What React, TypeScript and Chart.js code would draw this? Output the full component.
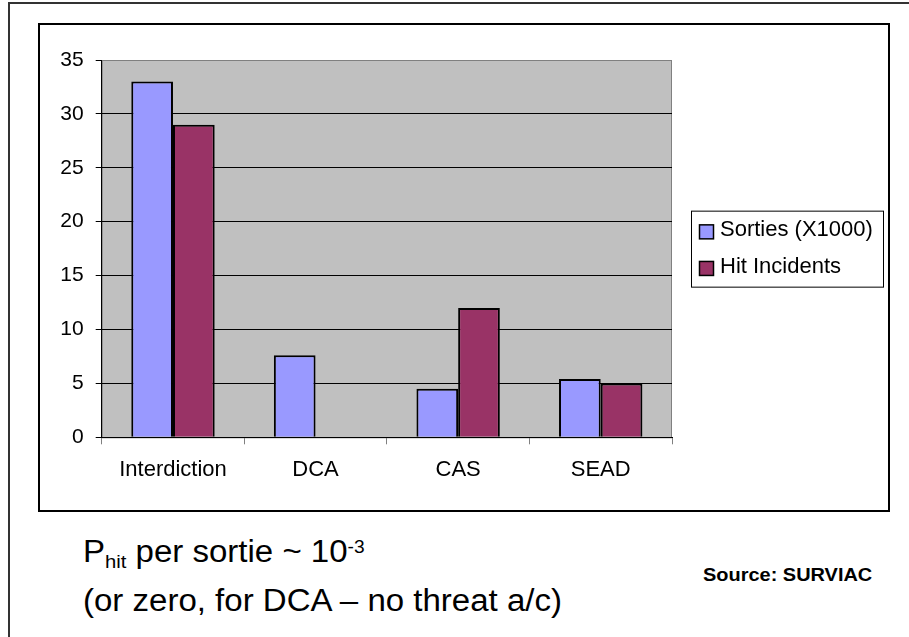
import { useEffect, useRef } from "react";
import { Chart, registerables } from "chart.js";

Chart.register(...registerables);

const categories = ["Interdiction", "DCA", "CAS", "SEAD"];
const seriesNames = ["Sorties (X1000)", "Hit Incidents"];
const sorties = [33, 7.6, 4.5, 5.4];
const hitIncidents = [29, 0, 12, 5];
const yTicks = [0, 5, 10, 15, 20, 25, 30, 35];
const seriesColors = ["#9999ff", "#993366"];

const FONT = '"Liberation Sans", Arial, Helvetica, sans-serif';

// grey plot area with a thin darker frame (top / right)
const plotBackground = {
  id: "plotBackground",
  beforeDraw(chart: any) {
    const { ctx, chartArea: a } = chart;
    ctx.save();
    ctx.fillStyle = "#c0c0c0";
    ctx.fillRect(a.left, a.top, a.right - a.left, a.bottom - a.top);
    ctx.strokeStyle = "#808080";
    ctx.lineWidth = 1;
    ctx.strokeRect(a.left + 0.5, a.top + 0.5, a.right - a.left - 1, a.bottom - a.top);
    ctx.restore();
  },
};

// excel style legend: boxed, to the right of the plot
const boxedLegend = {
  id: "boxedLegend",
  afterDraw(chart: any) {
    const { ctx, chartArea: a } = chart;
    const w = 192;
    const h = 76;
    const left = a.right + 19;
    const top = (a.top + a.bottom) / 2 - h / 2;
    ctx.save();
    ctx.fillStyle = "#fff";
    ctx.fillRect(left, top, w, h);
    ctx.strokeStyle = "#000";
    ctx.lineWidth = 1;
    ctx.strokeRect(left + 0.5, top + 0.5, w, h);
    ctx.font = `22px ${FONT}`;
    ctx.textBaseline = "alphabetic";
    chart.data.datasets.forEach((ds: any, i: number) => {
      const base = top + 25.7 + i * 36.6;
      ctx.fillStyle = ds.backgroundColor;
      ctx.fillRect(left + 8.5, base - 11.5, 14, 14);
      ctx.lineWidth = 1.5;
      ctx.strokeStyle = "#000";
      ctx.strokeRect(left + 8.5, base - 11.5, 14, 14);
      ctx.fillStyle = "#000";
      ctx.fillText(ds.label, left + 29, base);
    });
    ctx.restore();
  },
};

function SortieChart() {
  const chartRef = useRef<HTMLCanvasElement>(null);
  const chartInstance = useRef<Chart | null>(null);

  useEffect(() => {
    if (!chartRef.current) return;
    Chart.defaults.font.family = FONT;
    Chart.defaults.color = "#000";

    if (chartInstance.current) chartInstance.current.destroy();

    chartInstance.current = new Chart(chartRef.current, {
      type: "bar",
      data: {
        labels: categories,
        datasets: [
          {
            label: seriesNames[0],
            data: sorties,
            backgroundColor: seriesColors[0],
            borderColor: "#000",
            borderWidth: 2,
            barPercentage: 1,
            categoryPercentage: 0.585,
          },
          {
            label: seriesNames[1],
            data: hitIncidents,
            backgroundColor: seriesColors[1],
            borderColor: "#000",
            borderWidth: 2,
            barPercentage: 1,
            categoryPercentage: 0.585,
          },
        ],
      },
      options: {
        animation: false,
        responsive: true,
        maintainAspectRatio: false,
        layout: { padding: { top: 37, right: 218, bottom: 0, left: 0 } },
        plugins: {
          legend: { display: false },
          tooltip: { enabled: false },
        },
        scales: {
          x: {
            grid: {
              display: true,
              drawOnChartArea: false,
              drawTicks: true,
              tickLength: 7,
              tickColor: "#808080",
              offset: true,
            },
            border: { display: true, color: "#000", width: 1 },
            ticks: { font: { size: 22 }, color: "#000", padding: 12, maxRotation: 0 },
            afterFit: (s: any) => {
              s.height = 74.7;
            },
          },
          y: {
            min: 0,
            max: 35,
            afterBuildTicks: (s: any) => {
              s.ticks = yTicks.map((v) => ({ value: v }));
            },
            ticks: { font: { size: 21 }, color: "#000", padding: 12 },
            grid: {
              color: (c: any) =>
                c.tick && c.tick.value === 35 ? "rgba(0,0,0,0)" : "#000",
              tickColor: "#000",
              tickLength: 6,
              lineWidth: 1,
            },
            border: { display: true, color: "#000", width: 1 },
            afterFit: (s: any) => {
              s.width = 63.7;
            },
          },
        },
      },
      plugins: [plotBackground, boxedLegend],
    });

    return () => {
      if (chartInstance.current) {
        chartInstance.current.destroy();
        chartInstance.current = null;
      }
    };
  }, []);

  return (
    <div
      style={{
        position: "absolute",
        left: 38,
        top: 23,
        width: 852,
        height: 489,
      }}
    >
      <canvas ref={chartRef} />
    </div>
  );
}

export default function App() {
  return (
    <div
      style={{
        position: "absolute",
        left: 0,
        top: 0,
        width: 909,
        height: 637,
        background: "#fff",
        overflow: "hidden",
        fontFamily: FONT,
        color: "#000",
      }}
    >
      {/* slide frame */}
      <div style={{ position: "absolute", left: 8, top: 2, width: 901, height: 2, background: "#333" }} />
      <div style={{ position: "absolute", left: 8, top: 2, width: 2, height: 635, background: "#333" }} />
      {/* chart box */}
      <div
        style={{
          position: "absolute",
          left: 38,
          top: 23,
          width: 852,
          height: 489,
          border: "2px solid #000",
          boxSizing: "border-box",
        }}
      />
      <SortieChart />
      <div
        style={{
          position: "absolute",
          left: 82.7,
          top: 535.5,
          fontSize: 31,
          lineHeight: "31px",
          whiteSpace: "nowrap",
          transform: "scaleX(1.065)",
          transformOrigin: "left",
        }}
      >
        P
        <span style={{ fontSize: 19, lineHeight: 1, position: "relative", top: 6.6 }}>hit</span> per
        sortie ~ 10
        <span style={{ fontSize: 18, lineHeight: 1, position: "relative", top: -8.4 }}>-3</span>
      </div>
      <div
        style={{
          position: "absolute",
          left: 82.7,
          top: 585,
          fontSize: 31,
          lineHeight: "31px",
          whiteSpace: "nowrap",
          transform: "scaleX(1.065)",
          transformOrigin: "left",
        }}
      >
        (or zero, for DCA – no threat a/c)
      </div>
      <div
        style={{
          position: "absolute",
          left: 703.3,
          top: 564.9,
          fontSize: 19,
          fontWeight: "bold",
          lineHeight: "19px",
          whiteSpace: "nowrap",
          transform: "scaleX(1.05)",
          transformOrigin: "left",
        }}
      >
        Source: SURVIAC
      </div>
    </div>
  );
}
